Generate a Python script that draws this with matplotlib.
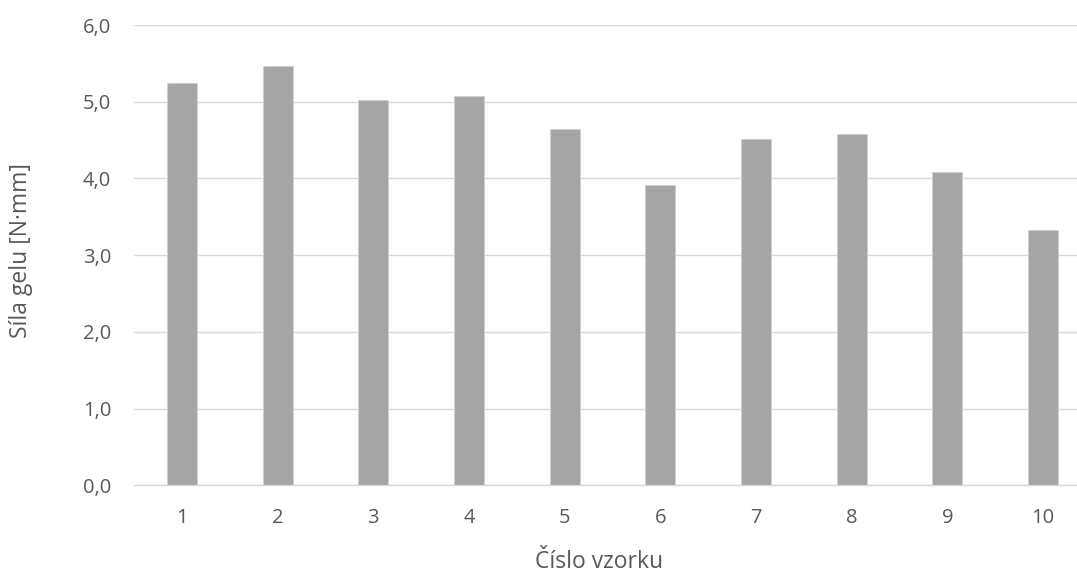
import matplotlib
matplotlib.use("Agg")
import matplotlib.pyplot as plt

# Sample numbers and measured gel strength
samples = ["1", "2", "3", "4", "5", "6", "7", "8", "9", "10"]
strength = [5.25, 5.47, 5.02, 5.07, 4.64, 3.91, 4.52, 4.58, 4.08, 3.33]
y_ticks = [0, 1, 2, 3, 4, 5, 6]
y_tick_labels = ["0,0", "1,0", "2,0", "3,0", "4,0", "5,0", "6,0"]

plt.rcParams["font.family"] = ["Open Sans", "DejaVu Sans"]
text_color = "#595959"
grid_color = "#D9D9D9"

W, H = 1077, 577
fig = plt.figure(figsize=(W / 100, H / 100), dpi=100)
left, right, bottom, top = 134, 1091, 485.3, 25
ax = fig.add_axes([left / W, 1 - bottom / H, (right - left) / W, (bottom - top) / H])

x = list(range(len(samples)))
ax.bar(x, strength, width=0.313, color="#A5A5A5", edgecolor="#CFCFCF",
       linewidth=0.8, zorder=3)

ax.set_xlim(-0.5, len(samples) - 0.5)
ax.set_ylim(0, 6)
ax.set_yticks(y_ticks)
ax.set_yticklabels(y_tick_labels)
ax.set_xticks(x)
ax.set_xticklabels(samples)

ax.grid(axis="y", color=grid_color, linewidth=1.0, zorder=0)
ax.set_axisbelow(True)
for s in ["top", "right", "left"]:
    ax.spines[s].set_visible(False)
ax.spines["bottom"].set_color(grid_color)
ax.spines["bottom"].set_linewidth(1.0)
ax.tick_params(axis="both", length=0, labelsize=14.5, colors=text_color)
ax.tick_params(axis="y", pad=16.5)
ax.tick_params(axis="x", pad=16)

fig.text(21 / W, 1 - 251 / H, "Síla gelu [N·mm]", rotation=90, ha="center",
         va="center", fontsize=16.5, color=text_color)
fig.text(599 / W, 1 - 562 / H, "Číslo vzorku", ha="center", va="center",
         fontsize=16.5, color=text_color)

fig.savefig("out.png", dpi=100)
